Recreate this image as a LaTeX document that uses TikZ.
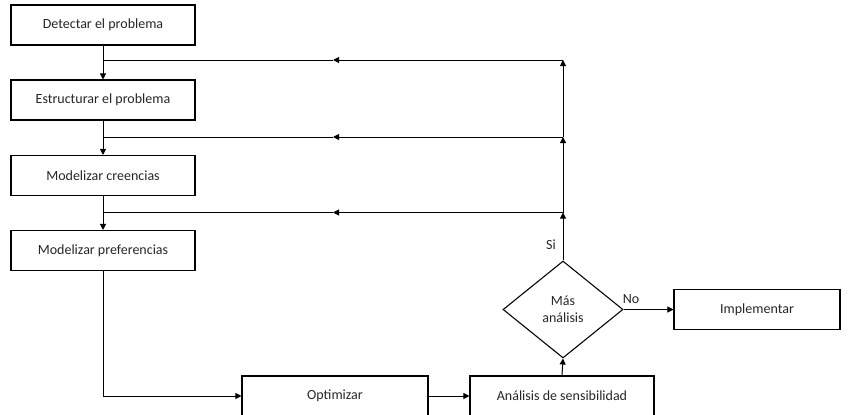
\documentclass[tikz,border=0pt]{standalone}
\usepackage{fontspec}
\setmainfont{Carlito}
\usetikzlibrary{shapes.geometric,arrows.meta}
\begin{document}
\begin{tikzpicture}[x=0.75pt,y=-0.75pt,
  every node/.style={font=\fontsize{10.5}{12.5}\selectfont, text=black!85},
  box/.style={draw, line width=0.8pt, minimum width=138pt, minimum height=30pt, inner sep=0pt},
  dec/.style={draw, diamond, line width=0.8pt, minimum width=90pt, minimum height=72.75pt, inner sep=0pt, align=center},
  arr/.style={line width=0.75pt, -{Triangle[length=4.5pt,width=4.5pt]}},
  ln/.style={line width=0.75pt},
  lbl/.style={inner sep=0pt}
]
\useasboundingbox (0,0) rectangle (848,414);
\node[box] (b1) at (103,25) {Detectar el problema};
\node[box] (b2) at (103,100) {Estructurar el problema};
\node[box] (b3) at (103,175.5) {Modelizar creencias};
\node[box] (b4) at (103,250.5) {Modelizar preferencias};
\node[box, minimum width=139.5pt] (opt) at (335,396) {Optimizar};
\node[box] (sen) at (562,396) {Análisis de sensibilidad};
\node[dec] (d) at (563,309.5) {Más\\análisis};
\node[box, minimum width=124.5pt] (imp) at (757,309.5) {Implementar};

\coordinate (k1) at (103,60);
\coordinate (k2) at (103,137);
\coordinate (k3) at (103,212.5);
\coordinate (j1) at (563,60);
\coordinate (j2) at (563,137);
\coordinate (j3) at (563,212.5);
\coordinate (m1) at (333,60);
\coordinate (m2) at (333,137);
\coordinate (m3) at (333,212.5);

\draw[arr] (b1.south) -- (b2.north);
\draw[arr] (b2.south) -- (b3.north);
\draw[arr] (b3.south) -- (b4.north);
\draw[arr] (b4.south) |- (opt.west);
\draw[arr] (opt.east) -- (sen.west);
\draw[arr] (sen.north) -- (d.south);
\draw[arr] (d.east) -- (imp.west);

\draw[arr] (d.north) -- (j3);
\draw[arr] (j3) -- (j2);
\draw[arr] (j2) -- (j1);

\draw[arr] (j1) -- (m1);
\draw[ln] (m1) -- (k1);
\draw[arr] (j2) -- (m2);
\draw[ln] (m2) -- (k2);
\draw[arr] (j3) -- (m3);
\draw[ln] (m3) -- (k3);

\node[lbl] (si) at (551,245) {Si};
\node[lbl] (no) at (631,299) {No};
\end{tikzpicture}
\end{document}
